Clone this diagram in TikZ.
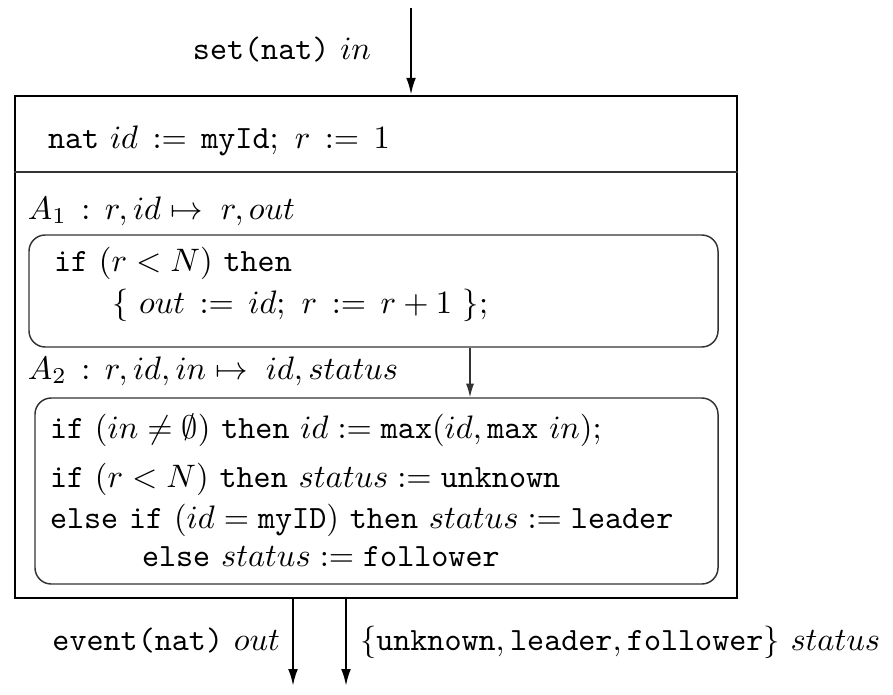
\documentclass[tikz,border=0pt]{standalone}
\usetikzlibrary{arrows.meta,fit}
\newcommand{\wasg}{\mathrel{\,{:}{=}\,}}
\begin{document}
\begin{tikzpicture}[x=0.3077pt,y=-0.3077pt,
  txt/.style={inner sep=0pt,outer sep=0pt,anchor=base west},
  txtr/.style={inner sep=0pt,outer sep=0pt,anchor=base east},
  outerbox/.style={draw,line width=0.75pt,inner sep=0pt},
  rbox/.style={draw=black!80,line width=0.45pt,rounded corners=5pt,inner sep=0pt},
  bigarrow/.style={line width=0.7pt,-{Latex[length=5.2pt,width=3pt]}},
  smallarrow/.style={line width=0.4pt,draw=black!80,-{Latex[length=4.2pt,width=2.5pt]}}]
\useasboundingbox (0,0) rectangle (893,694);
% outer box
\coordinate (onw) at (15,96);
\coordinate (ose) at (737,598);
\node[outerbox,fit=(onw)(ose)] (outer) {};
% input
\coordinate (intop) at (411,8);
\node[txtr] (inlbl) at (371,60) {\texttt{set(nat)} $in$};
\draw[bigarrow] (intop) -- (intop |- outer.north);
% initialisation
\node[txt] (init) at (48,148) {\texttt{nat} $id \wasg \texttt{myId};\ r \wasg 1$};
\coordinate (sep) at (15,172);
\draw[line width=0.45pt,black!80] (outer.west |- sep) -- (outer.east |- sep);
% A1
\node[txt] (a1lbl) at (28,219) {$A_1 \mathrel{\,:\,} r, id \mapsto\; r, out$};
\coordinate (b1nw) at (29,235);
\coordinate (b1se) at (718,347);
\node[rbox,fit=(b1nw)(b1se)] (box1) {};
\node[txt] (b1l1) at (54,271) {\texttt{if} $(r<N)$ \texttt{then}};
\node[txt] (b1l2) at (112,313) {$\{\ out \wasg id;\ r \wasg r+1\ \};$};
% A2
\node[txt] (a2lbl) at (28,379) {$A_2 \mathrel{\,:\,} r, id, in \mapsto\; id, status$};
\coordinate (b2nw) at (35,398);
\coordinate (b2se) at (718,584);
\node[rbox,fit=(b2nw)(b2se)] (box2) {};
\coordinate (mid) at (470,0);
\draw[smallarrow] (mid |- box1.south) -- (mid |- box2.north);
\node[txt] (b2l1) at (50,438) {\texttt{if} $(in \neq \emptyset)$ \texttt{then} $id := \texttt{max}(id, \texttt{max}\ in)$;};
\node[txt] (b2l2) at (50,487) {\texttt{if} $(r<N)$ \texttt{then} $status := \texttt{unknown}$};
\node[txt] (b2l3) at (50,528) {\texttt{else}\ \texttt{if} $(id = \texttt{myID})$ \texttt{then} $status := \texttt{leader}$};
\node[txt] (b2l4) at (142,566) {\texttt{else} $status := \texttt{follower}$};
% outputs
\coordinate (outa) at (293,686);
\coordinate (outb) at (346,686);
\draw[bigarrow] (outer.south -| outa) -- (outa);
\draw[bigarrow] (outer.south -| outb) -- (outb);
\node[txtr] (outlbl) at (280,650) {\texttt{event(nat)} $out$};
\node[txt] (stlbl) at (360,650) {$\{\texttt{unknown}, \texttt{leader}, \texttt{follower}\}$ $status$};
\end{tikzpicture}
\end{document}
